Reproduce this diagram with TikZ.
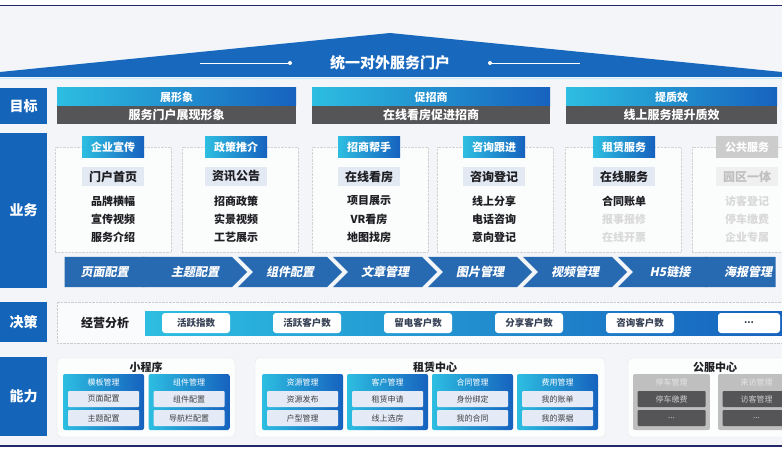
\documentclass[tikz,border=0pt]{standalone}
\usepackage{fontspec}
\setmainfont{Noto Sans CJK SC}
\newfontfamily\slantfont[FakeSlant=0.2]{Noto Sans CJK SC}
\usetikzlibrary{shapes.symbols}

\definecolor{navyline}{RGB}{35,40,105}
\definecolor{roofblue}{RGB}{24,104,190}
\definecolor{tagblue}{RGB}{20,100,185}
\definecolor{tabcyan}{RGB}{45,190,225}
\definecolor{tabblue}{RGB}{22,98,190}
\definecolor{goalgray}{RGB}{85,85,88}
\definecolor{chevblue}{RGB}{40,106,178}
\definecolor{keyfill}{RGB}{226,233,243}
\definecolor{bgpale}{RGB}{243,245,248}
\definecolor{textdark}{RGB}{30,30,35}
\definecolor{subfill}{RGB}{228,235,246}
\definecolor{kpitext}{RGB}{55,65,85}

\tikzset{
  lbl/.style={fill=tagblue, text=white, font=\bfseries\fontsize{14}{14}\selectfont, minimum width=47pt, inner sep=0pt},
  goaltop/.style={left color=tabcyan, right color=tabblue, text=white, font=\bfseries\fontsize{11}{11}\selectfont, minimum height=18pt, inner sep=0pt},
  goalbot/.style={fill=goalgray, text=white, font=\bfseries\fontsize{12}{12}\selectfont, minimum height=18pt, inner sep=0pt},
  card/.style={draw=gray!35, densely dotted, fill=white, fill opacity=0.7, minimum width=116pt, minimum height=105pt, inner sep=0pt},
  cardtab/.style={left color=tabcyan, right color=tabblue, text=white, font=\bfseries\fontsize{11}{11}\selectfont, minimum width=62pt, minimum height=21pt, inner sep=0pt},
  cardkey/.style={fill=keyfill, text=textdark, font=\bfseries\fontsize{12}{12}\selectfont, minimum width=62pt, minimum height=19pt, inner sep=0pt},
  carditem/.style={text=textdark, font=\bfseries\fontsize{11}{11}\selectfont, inner sep=0pt},
  chev/.style={signal, signal to=east, signal from=west, signal pointer angle=90, fill=chevblue, text=white, font=\slantfont\bfseries\fontsize{12}{12}\selectfont, minimum height=30pt, minimum width=104pt, inner sep=0pt, outer sep=0pt},
  kpi/.style={fill=white, rounded corners=3pt, minimum width=68pt, minimum height=20pt, text=kpitext, font=\bfseries\fontsize{9.5}{9.5}\selectfont, inner sep=0pt},
  capgrp/.style={draw=gray!20, fill=white, fill opacity=0.8, rounded corners=4pt, minimum height=79pt, inner sep=0pt},
  captitle/.style={text=textdark, font=\bfseries\fontsize{11}{11}\selectfont, inner sep=0pt},
  capbox/.style={left color=tabcyan, right color=tabblue, rounded corners=2pt, minimum width=81pt, minimum height=56pt, inner sep=0pt},
  caphead/.style={text=white, font=\fontsize{8}{8}\selectfont, inner sep=0pt},
  capsub/.style={fill=subfill, rounded corners=1pt, minimum width=71pt, minimum height=16pt, text=textdark!85, font=\fontsize{8}{8}\selectfont, inner sep=0pt}
}

\begin{document}
\begin{tikzpicture}[x=1pt, y=-1pt]
	\useasboundingbox (0,0) rectangle (782,457);
	\clip (0,0) rectangle (782,457);
	\fill[white] (0,0) rectangle (782,457);
	\fill[bgpale] (0,6) rectangle (782,446);
	\draw[navyline, line width=1.5pt] (0,5.5) -- (782,5.5);
	\draw[navyline, line width=1.5pt] (0,446) -- (782,446);

	% roof
	\fill[roofblue] (0,72) -- (390,33) -- (782,72) -- (782,77) -- (0,77) -- cycle;
	\draw[cyan!25, line width=1pt] (0,78.5) -- (782,78.5);
	\node (portal) at (390,63) [text=white, font=\bfseries\fontsize{15}{15}\selectfont] {统一对外服务门户};
	\draw[white, line width=0.8pt] (200,63) -- (290,63);
	\fill[white] (290,63) circle (2);
	\draw[white, line width=0.8pt] (490,63) -- (580,63);
	\fill[white] (490,63) circle (2);

	% goals
	\node (tgoal) at (23.5,106) [lbl, minimum height=36pt] {目标};
	\node (g1t) at (176.5,97)  [goaltop, minimum width=239pt] {展形象};
	\node (g1b) at (176.5,115) [goalbot, minimum width=239pt] {服务门户展现形象};
	\node (g2t) at (431,97)    [goaltop, minimum width=238pt] {促招商};
	\node (g2b) at (431,115)   [goalbot, minimum width=238pt] {在线看房促进招商};
	\node (g3t) at (671.5,97)  [goaltop, minimum width=211pt] {提质效};
	\node (g3b) at (671.5,115) [goalbot, minimum width=211pt] {线上服务提升质效};

	% business
	\node (tbiz) at (23.5,210.5) [lbl, minimum height=155pt] {业务};

	\node (c1) at (113,199.5) [card] {};
	\node (c1t) at (113,147.5) [cardtab] {企业宣传};
	\node (c1k) at (113,176.5) [cardkey] {门户首页};
	\node (c1a) at (113,201) [carditem] {品牌横幅};
	\node (c1b) at (113,219) [carditem] {宣传视频};
	\node (c1c) at (113,237) [carditem] {服务介绍};

	\node (c2) at (240,199.5) [card] {};
	\node (c2t) at (236,147.5) [cardtab] {政策推介};
	\node (c2k) at (236,176.5) [cardkey] {资讯公告};
	\node (c2a) at (236,201) [carditem] {招商政策};
	\node (c2b) at (236,219) [carditem] {实景视频};
	\node (c2c) at (236,237) [carditem] {工艺展示};

	\node (c3) at (370,199.5) [card] {};
	\node (c3t) at (369,147.5) [cardtab] {招商帮手};
	\node (c3k) at (369,176.5) [cardkey] {在线看房};
	\node (c3a) at (369,201) [carditem] {项目展示};
	\node (c3b) at (369,219) [carditem] {VR看房};
	\node (c3c) at (369,237) [carditem] {地图找房};

	\node (c4) at (495,199.5) [card] {};
	\node (c4t) at (494,147.5) [cardtab] {咨询跟进};
	\node (c4k) at (494,176.5) [cardkey] {咨询登记};
	\node (c4a) at (494,201) [carditem] {线上分享};
	\node (c4b) at (494,219) [carditem] {电话咨询};
	\node (c4c) at (494,237) [carditem] {意向登记};

	\node (c5) at (623,199.5) [card] {};
	\node (c5t) at (624,147.5) [cardtab] {租赁服务};
	\node (c5k) at (624,176.5) [cardkey] {在线服务};
	\node (c5a) at (624,201) [carditem] {合同账单};
	\node (c5b) at (624,219) [carditem, text=gray!30] {报事报修};
	\node (c5c) at (624,237) [carditem, text=gray!30] {在线开票};

	\node (c6) at (750,199.5) [card] {};
	\node (c6t) at (747,147.5) [cardtab, left color=gray!40, right color=gray!40] {公共服务};
	\node (c6k) at (747,176.5) [cardkey, fill=gray!12, text=gray!50] {园区一体};
	\node (c6a) at (747,201) [carditem, text=gray!30] {访客登记};
	\node (c6b) at (747,219) [carditem, text=gray!30] {停车缴费};
	\node (c6c) at (747,237) [carditem, text=gray!30] {企业专属};

	% chevrons
	\node (s1) at (104.5,272) [chev, signal from=nowhere, minimum width=95pt] {页面配置};
	\node (s2) at (195,272) [chev] {主题配置};
	\node (s3) at (290,272) [chev] {组件配置};
	\node (s4) at (385,272) [chev] {文章管理};
	\node (s5) at (480,272) [chev] {图片管理};
	\node (s6) at (575,272) [chev] {视频管理};
	\node (s7) at (670,272) [chev] {H5链接};
	\node (s8) at (748,272) [chev, signal to=nowhere, minimum width=70pt] {海报管理};

	% decision
	\node (tdec) at (23.5,322) [lbl, minimum height=40pt] {决策};
	\node (dbox) at (419.5,322.5) [draw=gray!40, densely dotted, fill=white, fill opacity=0.6, minimum width=725pt, minimum height=41pt] {};
	\node (dname) at (105,323) [text=textdark, font=\bfseries\fontsize{12}{12}\selectfont] {经营分析};
	\node (dbar) at (463.5,323) [left color=tabcyan, right color=tabblue, minimum width=637pt, minimum height=24pt, inner sep=0pt] {};
	\node (k1) at (196,323) [kpi] {活跃指数};
	\node (k2) at (307,323) [kpi] {活跃客户数};
	\node (k3) at (418,323) [kpi] {留电客户数};
	\node (k4) at (529,323) [kpi] {分享客户数};
	\node (k5) at (640,323) [kpi] {咨询客户数};
	\node (k6) at (749,323) [kpi, minimum width=62pt] {...};

	% capability
	\node (tcap) at (23.5,396.5) [lbl, minimum height=79pt] {能力};

	\node (m) at (146,397.5) [capgrp, minimum width=178pt] {};
	\node (mt) at (146,367) [captitle] {小程序};
	\node (m1) at (103.5,402) [capbox] {};
	\node (m1h) at (103.5,382) [caphead] {模板管理};
	\node (m1a) at (103.5,399) [capsub] {页面配置};
	\node (m1b) at (103.5,418) [capsub] {主题配置};
	\node (m2) at (189,402) [capbox] {};
	\node (m2h) at (189,382) [caphead] {组件管理};
	\node (m2a) at (189,399) [capsub] {组件配置};
	\node (m2b) at (189,418) [capsub] {导航栏配置};

	\node (r) at (430,397.5) [capgrp, minimum width=350pt] {};
	\node (rt) at (435,367) [captitle] {租赁中心};
	\node (r1) at (302.5,402) [capbox] {};
	\node (r1h) at (302.5,382) [caphead] {资源管理};
	\node (r1a) at (302.5,399) [capsub] {资源发布};
	\node (r1b) at (302.5,418) [capsub] {户型管理};
	\node (r2) at (387.5,402) [capbox] {};
	\node (r2h) at (387.5,382) [caphead] {客户管理};
	\node (r2a) at (387.5,399) [capsub] {租赁申请};
	\node (r2b) at (387.5,418) [capsub] {线上选房};
	\node (r3) at (472.5,402) [capbox] {};
	\node (r3h) at (472.5,382) [caphead] {合同管理};
	\node (r3a) at (472.5,399) [capsub] {身份绑定};
	\node (r3b) at (472.5,418) [capsub] {我的合同};
	\node (r4) at (557.5,402) [capbox] {};
	\node (r4h) at (557.5,382) [caphead] {费用管理};
	\node (r4a) at (557.5,399) [capsub] {我的账单};
	\node (r4b) at (557.5,418) [capsub] {我的票据};

	\node (p) at (710,397.5) [capgrp, minimum width=164pt] {};
	\node (pt) at (715,367) [captitle] {公服中心};
	\node (p1) at (671.5,402) [capbox, left color=gray!50, right color=gray!50, minimum width=77pt] {};
	\node (p1h) at (671.5,382) [caphead, text=gray!20] {停车管理};
	\node (p1a) at (671.5,399) [capsub, fill=goalgray, text=gray!40, minimum width=68pt] {停车缴费};
	\node (p1b) at (671.5,418) [capsub, fill=goalgray, text=gray!40, minimum width=68pt] {...};
	\node (p2) at (756.5,402) [capbox, left color=gray!50, right color=gray!50, minimum width=77pt] {};
	\node (p2h) at (756.5,382) [caphead, text=gray!20] {来访管理};
	\node (p2a) at (756.5,399) [capsub, fill=goalgray, text=gray!40, minimum width=68pt] {访客管理};
	\node (p2b) at (756.5,418) [capsub, fill=goalgray, text=gray!40, minimum width=68pt] {...};
\end{tikzpicture}
\end{document}
